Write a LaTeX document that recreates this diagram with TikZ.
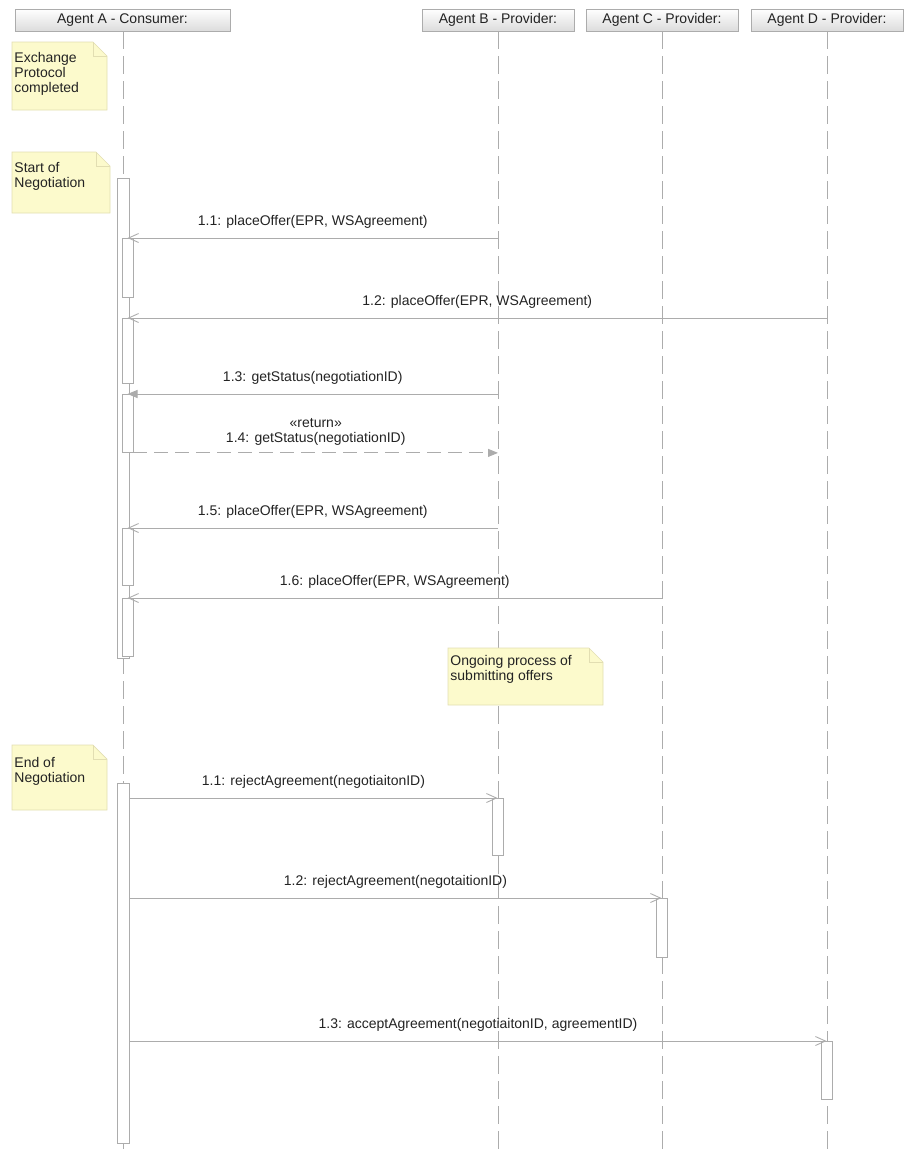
\documentclass[tikz,border=0pt]{standalone}
\usepackage{fontspec}
\setmainfont{Liberation Sans}
\usetikzlibrary{arrows.meta}
\definecolor{linegray}{RGB}{172,172,172}
\definecolor{notefill}{RGB}{252,250,204}
\definecolor{noteedge}{RGB}{226,222,178}
\definecolor{headfill}{RGB}{220,220,220}
\definecolor{txt}{RGB}{35,35,35}
\newcommand\umlnote[7]{% name, x1, y1, x2, y2, text y offset, text
  \filldraw[notebody] (#2,#3) -- ({#4-14},#3) -- (#4,{#3+14}) -- (#4,#5) -- (#2,#5) -- cycle;
  \draw[notebody,fill=none] ({#4-14},#3) -- ({#4-14},{#3+14}) -- (#4,{#3+14});
  \node[notetext] (#1) at ({#2+2},{#3+#6}) {#7};
}
\begin{document}
\begin{tikzpicture}[x=1pt,y=-1pt,
  font=\fontsize{14}{15}\selectfont,
  line width=0.9pt,
  head/.style={draw=linegray, top color=white, bottom color=headfill,
    minimum height=22, inner sep=0, text=txt},
  lifeline/.style={draw=linegray, dash pattern=on 18pt off 7pt},
  bar/.style={draw=linegray, fill=white, minimum width=11, inner sep=0, anchor=north},
  msg/.style={draw=linegray, -{Straight Barb[length=10pt,width=9pt]}},
  sync/.style={draw=linegray, -{Triangle[length=10pt,width=8pt,fill=linegray]}},
  ret/.style={sync, dash pattern=on 14pt off 7pt},
  lbl/.style={text=txt, inner sep=0, anchor=base, yshift=13pt},
  notebody/.style={fill=notefill, draw=noteedge, line width=0.7pt},
  notetext/.style={text=txt, inner sep=0, anchor=north west, align=left}
]
\useasboundingbox (0,0) rectangle (905,1151);

% heads
\node[head, minimum width=215] (hA) at (122.5,20) {Agent A - Consumer:};
\node[head, minimum width=152] (hB) at (498,20) {Agent B - Provider:};
\node[head, minimum width=152] (hC) at (662,20) {Agent C - Provider:};
\node[head, minimum width=152] (hD) at (827,20) {Agent D - Provider:};

% lifelines
\coordinate (eA) at (123,1151);
\coordinate (eB) at (498,1151);
\coordinate (eC) at (662,1151);
\coordinate (eD) at (827,1151);
\draw[lifeline] (hA.south -| eA) -- (eA);
\draw[lifeline] (hB.south) -- (eB);
\draw[lifeline] (hC.south) -- (eC);
\draw[lifeline] (hD.south) -- (eD);

% activation bars
\node[bar, minimum width=12, minimum height=480] (A1) at (123,178) {};
\node[bar, minimum height=59] (a1) at (127.5,238) {};
\node[bar, minimum height=65] (a2) at (127.5,318) {};
\node[bar, minimum height=58] (a3) at (127.5,394) {};
\node[bar, minimum height=57] (a4) at (127.5,528) {};
\node[bar, minimum height=58] (a5) at (127.5,598) {};
\node[bar, minimum width=12, minimum height=360] (A2) at (123,783) {};
\node[bar, minimum height=57] (b1) at (497.5,798) {};
\node[bar, minimum height=59] (c1) at (661.5,898) {};
\node[bar, minimum height=58] (d1) at (826.5,1041) {};

% messages
\draw[msg] (hB |- a1.north) -- (a1.north) node[lbl, midway] {1.1: placeOffer(EPR, WSAgreement)};
\draw[msg] (hD |- a2.north) -- (a2.north) node[lbl, midway] {1.2: placeOffer(EPR, WSAgreement)};
\draw[sync] (hB |- a3.north) -- (a3.north) node[lbl, midway] {1.3: getStatus(negotiationID)};
\draw[ret] (a3.south east) -- (hB |- a3.south) node[text=txt, inner sep=0, midway, anchor=south, yshift=7pt, align=center] {«return»\\1.4: getStatus(negotiationID)};
\draw[msg] (hB |- a4.north) -- (a4.north) node[lbl, midway] {1.5: placeOffer(EPR, WSAgreement)};
\draw[msg] (hC |- a5.north) -- (a5.north) node[lbl, midway] {1.6: placeOffer(EPR, WSAgreement)};
\draw[msg] (A2.east |- b1.north) -- (b1.north) node[lbl, midway] {1.1: rejectAgreement(negotiaitonID)};
\draw[msg] (A2.east |- c1.north) -- (c1.north) node[lbl, midway] {1.2: rejectAgreement(negotaitionID)};
\draw[msg] (A2.east |- d1.north) -- (d1.north) node[lbl, midway] {1.3: acceptAgreement(negotiaitonID, agreementID)};

% notes
\umlnote{n1}{12}{42}{107}{110}{10}{Exchange\\Protocol\\completed}
\umlnote{n2}{12}{152}{110}{213}{10}{Start of\\Negotiation}
\umlnote{n3}{448}{648}{603}{705}{7}{Ongoing process of\\submitting offers}
\umlnote{n4}{12}{745}{107}{810}{12}{End of\\Negotiation}
\end{tikzpicture}
\end{document}
